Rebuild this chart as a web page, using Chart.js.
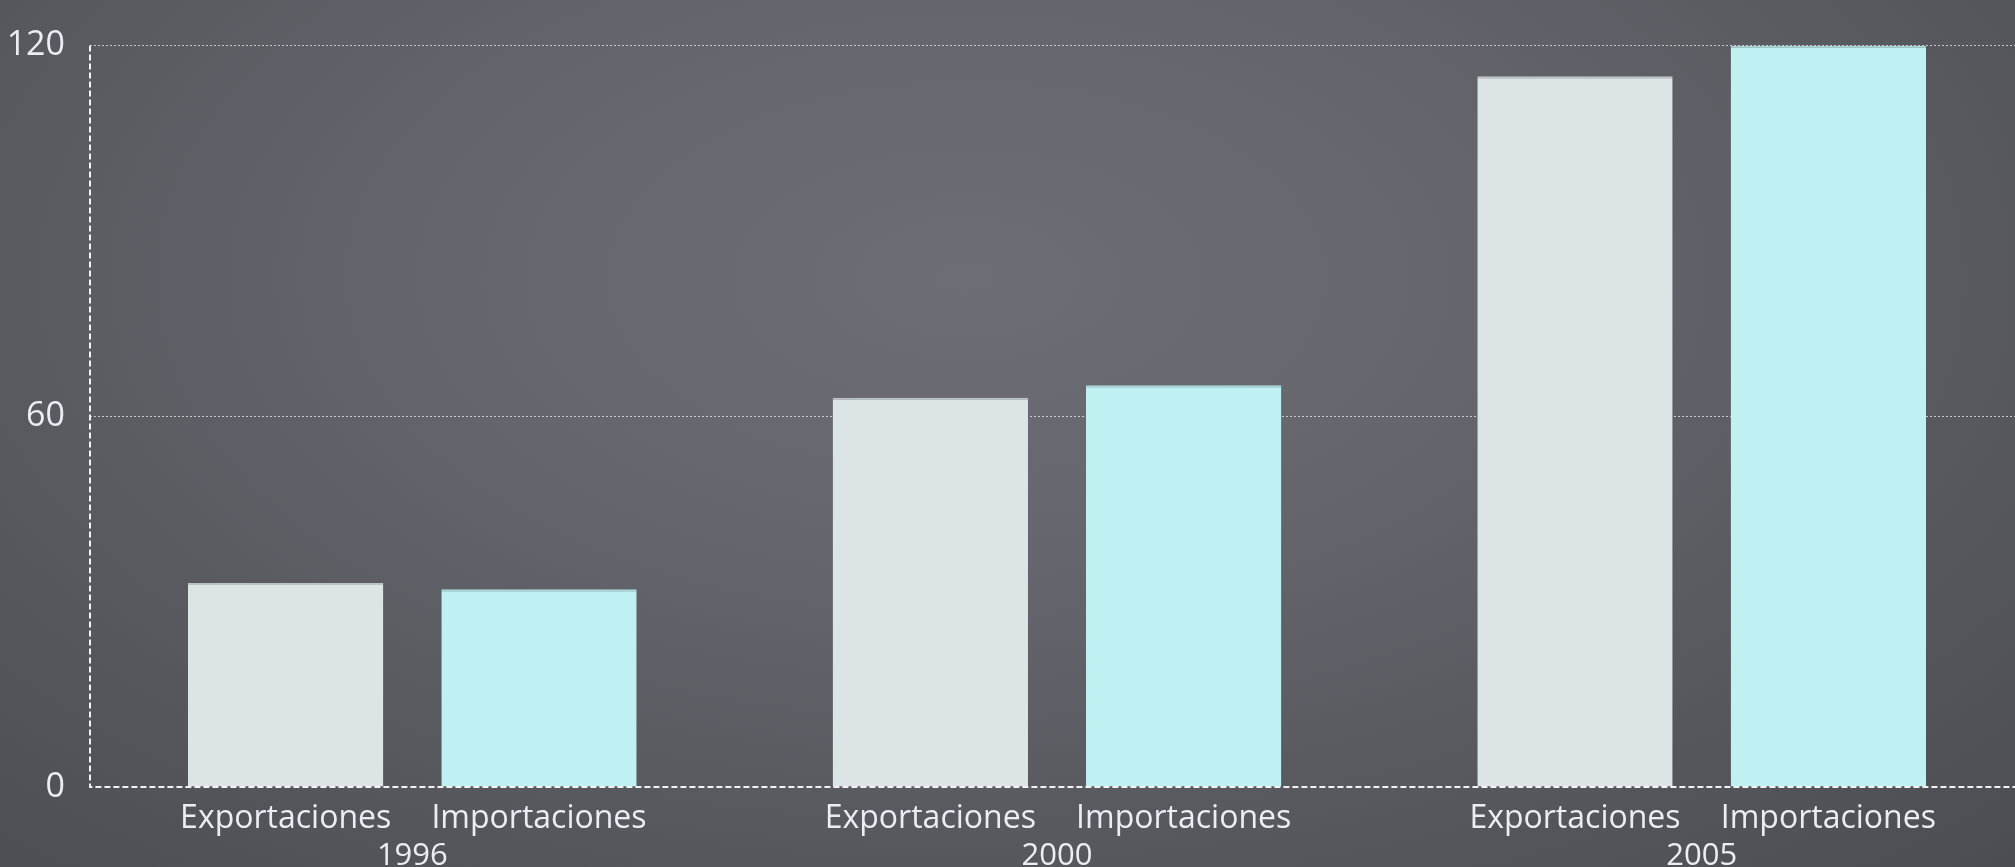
<!DOCTYPE html>
<html>
<head>
<meta charset="utf-8">
<script src="https://cdn.jsdelivr.net/npm/chart.js@4/dist/chart.umd.min.js"></script>
<style>
  html, body { margin: 0; padding: 0; width: 2015px; height: 867px; overflow: hidden; }
  body {
    background: radial-gradient(ellipse 75% 95% at 48% 32%, #6c6d75 0%, #65666d 35%, #57585e 70%, #4c4d52 100%);
  }
  #wrap { position: absolute; left: 0; top: 0; width: 2024px; height: 867px; }
</style>
</head>
<body>
<div id="wrap"><canvas id="chart"></canvas></div>
<script>
// Trade values per year (billions)
const years = ['1996', '2000', '2005'];
const seriesNames = ['Exportaciones', 'Importaciones'];
const exportaciones = [33, 63, 115];
const importaciones = [32, 65, 120];
const yTicks = [0, 60, 120];

const textColor = '#ececf4';
const axisColor = '#f2f2f4';
const fontFamily = '"Open Sans", "Noto Sans", sans-serif';

// Writes each series name under its own bar
const seriesLabels = {
  id: 'seriesLabels',
  afterDraw(chart) {
    const ctx = chart.ctx;
    const area = chart.chartArea;
    ctx.save();
    ctx.fillStyle = textColor;
    ctx.font = '32px ' + fontFamily;
    ctx.textAlign = 'center';
    ctx.textBaseline = 'alphabetic';
    chart.data.datasets.forEach((ds, i) => {
      chart.getDatasetMeta(i).data.forEach(bar => {
        ctx.fillText(ds.label, bar.x, area.bottom + 41);
      });
    });
    ctx.restore();
  }
};

// Dashed axis lines along the left and bottom of the plot
const dashedAxes = {
  id: 'dashedAxes',
  afterDatasetsDraw(chart) {
    const ctx = chart.ctx;
    const area = chart.chartArea;
    const y0 = chart.scales.y.getPixelForValue(0);
    ctx.save();
    ctx.strokeStyle = axisColor;
    ctx.lineWidth = 2;
    ctx.setLineDash([6, 3]);
    ctx.beginPath();
    ctx.moveTo(area.left, area.top);
    ctx.lineTo(area.left, y0);
    ctx.lineTo(area.right, y0);
    ctx.stroke();
    ctx.restore();
  }
};

new Chart(document.getElementById('chart'), {
  type: 'bar',
  data: {
    labels: years,
    datasets: [
      {
        label: seriesNames[0],
        data: exportaciones,
        backgroundColor: '#dce4e5',
        borderColor: '#bcc3c5',
        borderWidth: { top: 2, left: 0, right: 0, bottom: 0 },
        borderSkipped: 'start'
      },
      {
        label: seriesNames[1],
        data: importaciones,
        backgroundColor: '#bff1f2',
        borderColor: '#a9d6d8',
        borderWidth: { top: 2, left: 0, right: 0, bottom: 0 },
        borderSkipped: 'start'
      }
    ]
  },
  options: {
    responsive: true,
    maintainAspectRatio: false,
    animation: false,
    categoryPercentage: 0.786,
    barPercentage: 0.771,
    layout: { padding: { top: 35, left: 0, right: 0, bottom: 0 } },
    plugins: {
      legend: { display: false },
      tooltip: { enabled: false }
    },
    scales: {
      x: {
        grid: { display: false, drawTicks: false },
        border: { display: false },
        ticks: {
          color: textColor,
          font: { family: fontFamily, size: 31 },
          padding: 51,
          maxRotation: 0
        },
        afterFit(scale) { scale.height = 80; }
      },
      y: {
        min: 0,
        max: 120,
        afterBuildTicks(scale) { scale.ticks = yTicks.map(v => ({ value: v })); },
        grid: {
          color: ctx => ctx.tick && ctx.tick.value === 0 ? 'rgba(0,0,0,0)' : 'rgba(235,235,240,0.75)',
          lineWidth: 1,
          drawTicks: false
        },
        border: { display: false, dash: [2, 2] },
        ticks: {
          color: textColor,
          font: { family: fontFamily, size: 34 },
          padding: 25
        },
        afterFit(scale) { scale.width = 90; }
      }
    }
  },
  plugins: [seriesLabels, dashedAxes]
});
</script>
</body>
</html>
